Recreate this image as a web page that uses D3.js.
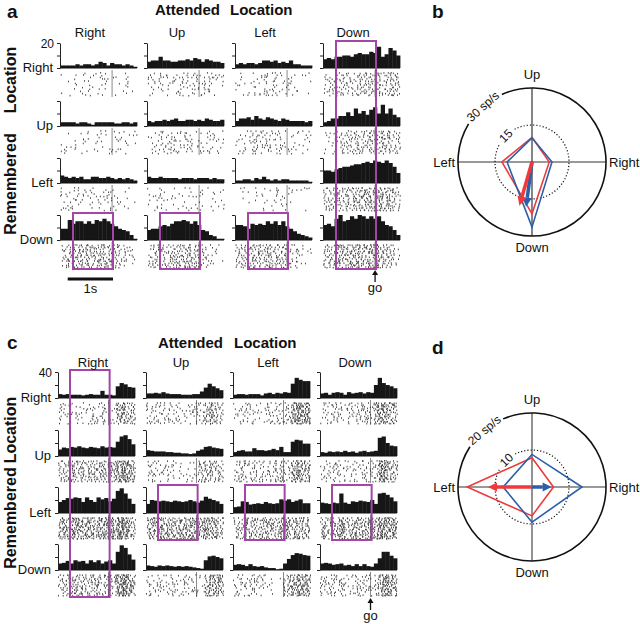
<!DOCTYPE html>
<html><head><meta charset="utf-8">
<script src="https://cdn.jsdelivr.net/npm/d3@7"></script>
<style>
body{margin:0;background:#fff}
text{font-family:Arial,"Liberation Sans",Helvetica,sans-serif;fill:#111}
</style></head>
<body><svg id="fig" width="640" height="624"></svg>
<script>
// ---------------- DATA ----------------
const directions = ["Right","Up","Left","Down"];
const DUR = 1.7;          // s shown per histogram
const BIN = 0.085;        // s per bin (20 bins)

// Panel a: firing rate (sp/s) per bin; rows = remembered location, inner arrays = attended location
const aRemRight = [
  [2,2,2,2,3,2,3,3,2,3,5,4,2,4,3,3,2,3,2,1],
  [5,6,6,9,6,6,5,5,6,6,7,6,8,7,5,7,6,5,5,4],
  [3,4,3,4,4,3,4,6,6,5,6,4,5,4,6,3,3,2,2,2],
  [7,8,7,9,9,10,10,9,11,12,11,11,13,12,17,9,11,16,14,10]
];
const aRemUp = [
  [3,3,3,3,2,3,3,2,1,3,3,3,3,3,2,2,3,3,2,3],
  [4,3,4,4,5,4,5,6,4,4,5,5,4,5,4,6,5,4,4,5],
  [4,6,6,7,5,8,6,5,7,6,5,4,6,5,4,4,4,4,3,4],
  [3,4,6,6,8,8,11,8,14,10,12,9,13,15,10,17,10,14,9,7]
];
const aRemLeft = [
  [6,5,4,5,4,5,3,3,5,5,4,4,5,4,3,4,3,4,3,2],
  [5,4,4,5,4,4,4,4,3,4,4,4,3,4,4,4,3,4,3,3],
  [2,2,3,3,2,4,3,5,3,2,3,2,3,3,2,2,2,2,2,1],
  [10,10,9,11,12,13,13,14,15,15,16,17,16,18,17,16,18,16,13,8]
];
const aRemDown = [
  [9,9,16,13,15,15,13,15,13,16,15,17,15,13,11,9,8,7,4,1],
  [8,9,9,11,12,11,13,15,15,16,15,13,15,12,8,7,4,3,1,1],
  [12,12,11,9,13,12,13,12,15,13,15,12,15,11,9,7,5,4,3,2],
  [12,13,11,17,20,15,16,19,17,20,19,17,19,17,19,15,12,11,8,4]
];
// Panel c
const cRemRight = [
  [6,5,6,5,5,5,4,5,6,5,5,11,5,5,4,18,23,21,17,16],
  [7,7,8,7,9,7,6,6,6,5,5,5,6,6,10,16,22,18,15,12],
  [5,6,6,5,6,6,6,4,7,8,6,8,7,9,8,22,31,28,26,26],
  [7,8,5,8,9,8,5,9,7,8,9,7,9,8,20,31,23,20,18,15]
];
const cRemUp = [
  [10,13,12,14,13,15,13,12,14,13,12,15,13,14,13,22,30,32,26,18],
  [9,8,7,7,7,6,6,5,5,4,4,3,4,8,10,14,15,13,12,11],
  [6,8,9,7,7,12,9,9,8,9,11,9,14,6,6,22,25,24,19,19],
  [6,5,7,6,7,6,8,6,7,5,7,8,6,7,8,28,30,20,16,15]
];
const cRemLeft = [
  [17,20,23,22,24,23,17,24,20,17,24,21,23,18,22,34,38,30,22,14],
  [14,20,19,18,19,18,17,19,18,17,18,20,18,16,19,25,22,20,18,14],
  [9,10,18,17,13,14,15,14,17,15,14,15,21,19,21,17,19,21,15,15],
  [16,15,14,16,15,30,16,14,18,17,19,18,17,20,14,30,31,28,24,18]
];
const cRemDown = [
  [10,11,14,10,15,13,14,10,15,12,15,10,13,15,10,28,38,34,24,16],
  [7,6,5,7,6,7,6,5,6,5,6,5,4,3,2,15,21,22,20,18],
  [8,9,8,6,9,6,5,6,4,3,3,1,2,10,17,23,26,25,23,22],
  [10,11,10,8,9,10,7,8,6,9,6,9,6,5,10,18,28,28,22,18]
];
const aTicks = [0,10,20];
const cTicks = [0,20,40];
// highlighted boxes: [attended column, first remembered row, last remembered row]
const aBoxes = [[3,0,3],[0,3,3],[1,3,3],[2,3,3]];
const cBoxes = [[0,0,3],[1,2,2],[2,2,2],[3,2,2]];

// Polar panels: values in order Right, Up, Left, Down (sp/s)
const bRed  = [7.0, 10.0, 12.2, 21.0];
const bBlue = [8.1, 9.8, 10.1, 26.4];
const bRedVec  = [-5.1, -17.7];   // x, y (up positive)
const bBlueVec = [-2.4, -18.1];
const dRed  = [5.8, 7.9, 17.5, 7.8];
const dBlue = [13.5, 8.8, 7.8, 9.5];
const dRedVec  = [-11.9, 0];
const dBlueVec = [5.3, 0];

// ---------------- DRAW ----------------
const svg = d3.select("#fig");
const MAG = "#a346a8", RED = "#ee3a3a", BLUE = "#2d5ea9";
function frac(v){ return v - Math.floor(v); }
function hash(a, b, c){ return frac(Math.sin(a*12.9898 + b*78.233 + c*37.719) * 43758.5453); }

function grid(o){
  const x = d3.scaleLinear().domain([0, DUR]).range([0, o.width]);
  const y = d3.scaleLinear().domain([0, o.maxRate]).range([0, -o.histH]);
  o.rows.forEach((row, r) => row.forEach((vals, c) => {
    const g = svg.append("g").attr("transform", `translate(${o.colX[c]},${o.baselines[r]})`);
    g.selectAll("rect").data(vals).join("rect")
      .attr("x", (d,i) => x(i*BIN)).attr("width", x(BIN) - x(0) + 0.4)
      .attr("y", d => y(d)).attr("height", d => -y(d)).attr("fill", "#161616");
    g.append("line").attr("x1",0).attr("x2",o.width).attr("y1",0).attr("y2",0)
      .attr("stroke","#111").attr("stroke-width",1);
    const ax = d3.axisLeft(y).tickValues(o.ticks).tickSize(3).tickSizeOuter(0).tickFormat("");
    g.append("g").call(ax).call(s => {
      s.select(".domain").attr("stroke","#222");
      s.selectAll(".tick line").attr("stroke","#222");
    });
    // spike raster: per trial and bin, spike count follows the histogram rate
    const nT = o.trials, rowH = (o.rasterH - 4) / nT;
    const seed = r*4 + c + o.seed;
    const spikes = [];
    for (let t = 0; t < nT; t++) {
      for (let b = 0; b < vals.length; b++) {
        const n = Math.floor(vals[b]*BIN + hash(t, b, seed));
        for (let k = 0; k < n; k++) {
          spikes.push([t + (hash(t+0.3, b+k*3.1, seed+5) - 0.5)*0.5, (b + hash(t+k*7.3, b+0.7, seed+11))*BIN]);
        }
      }
    }
    const rg = g.append("g").attr("transform", "translate(0,4)");
    rg.append("line").attr("x1", x(o.go)).attr("x2", x(o.go)).attr("y1", -2).attr("y2", o.rasterH - 3)
      .attr("stroke", "#8a8a8a").attr("stroke-width", 1);
    rg.selectAll("rect").data(spikes).join("rect")
      .attr("x", d => x(d[1])).attr("y", d => d[0]*rowH + 0.5)
      .attr("width", 0.9).attr("height", 1.6).attr("fill", "#3a3a3a");
  }));
  o.boxes.forEach(([c, r0, r1]) => {
    svg.append("rect")
      .attr("x", o.colX[c] + x(o.boxStart)).attr("width", x(o.boxEnd) - x(o.boxStart))
      .attr("y", o.baselines[r0] - o.histH - 2)
      .attr("height", (o.baselines[r1] + o.rasterH + 1) - (o.baselines[r0] - o.histH - 2))
      .attr("fill", "none").attr("stroke", MAG).attr("stroke-width", 2);
  });
  directions.forEach((d, c) => svg.append("text").attr("x", o.colX[c] + o.labelDx).attr("y", o.headY)
    .attr("text-anchor","middle").attr("font-size",13).text(d));
  directions.forEach((d, r) => svg.append("text").attr("x", o.colX[0] - 7).attr("y", o.baselines[r] + 4)
    .attr("text-anchor","end").attr("font-size",13).text(d));
  svg.append("text").attr("x", o.colX[0] - 6).attr("y", o.baselines[0] - o.histH + 5)
    .attr("text-anchor","end").attr("font-size",12).text(o.ticks[o.ticks.length-1]);
  svg.append("text").attr("x", o.titleX[0]).attr("y", o.titleY).attr("font-size",15).attr("font-weight","bold").text("Attended");
  svg.append("text").attr("x", o.titleX[1]).attr("y", o.titleY).attr("font-size",15).attr("font-weight","bold").text("Location");
  svg.append("text").attr("transform", `translate(16,${o.remY[0]}) rotate(-90)`).attr("text-anchor","middle")
    .attr("font-size",16).attr("font-weight","bold").text("Remembered");
  svg.append("text").attr("transform", `translate(16,${o.remY[1]}) rotate(-90)`).attr("text-anchor","middle")
    .attr("font-size",16).attr("font-weight","bold").text("Location");
  const gx = o.colX[3] + x(o.go);
  svg.append("line").attr("x1", gx).attr("x2", gx).attr("y1", o.goY - 6).attr("y2", o.goY - 15)
    .attr("stroke","#111").attr("stroke-width",1.3);
  svg.append("path").attr("d", `M${gx-3},${o.goY-13}L${gx},${o.goY-18}L${gx+3},${o.goY-13}Z`).attr("fill","#111");
  svg.append("text").attr("x", gx).attr("y", o.goY + 4).attr("text-anchor","middle").attr("font-size",13).text("go");
  return x;
}

const xa = grid({rows:[aRemRight,aRemUp,aRemLeft,aRemDown], baselines:[68,126,183,240], colX:[60,147,235,323],
  width:77, histH:25, rasterH:28, maxRate:20, ticks:aTicks, go:1.15, boxStart:0.287, boxEnd:1.17, boxes:aBoxes,
  labelDx:30, headY:37, titleX:[155,230], titleY:15, remY:[184,80], goY:288, seed:0, trials:12});
svg.append("line").attr("x1", 60 + xa(0.17)).attr("x2", 60 + xa(1.17)).attr("y1", 279).attr("y2", 279)
  .attr("stroke","#111").attr("stroke-width",3);
svg.append("text").attr("x", 60 + xa(0.67)).attr("y", 293).attr("text-anchor","middle").attr("font-size",13).text("1s");

grid({rows:[cRemRight,cRemUp,cRemLeft,cRemDown], baselines:[398,456,513,570], colX:[58,146,233,320],
  width:77, histH:26, rasterH:26, maxRate:40, ticks:cTicks, go:1.115, boxStart:0.265, boxEnd:1.14, boxes:cBoxes,
  labelDx:35, headY:367, titleX:[158,234], titleY:348, remY:[518,430], goY:616, seed:7, trials:12});

[["a",7,17.5],["b",432,17.5],["c",7,349],["d",432,354]].forEach(([t,x,y]) =>
  svg.append("text").attr("x",x).attr("y",y).attr("font-size",19).attr("font-weight","bold").text(t));

function polar(o){
  const g = svg.append("g").attr("transform", `translate(${o.cx},${o.cy})`);
  const R = o.R;
  const r = d3.scaleLinear().domain([0, o.max]).range([0, R]);
  const ang = [Math.PI/2, 0, -Math.PI/2, Math.PI];   // Right, Up, Left, Down (clockwise from top)
  const deg = Math.PI/180;
  function gapCircle(rad, g0, g1, dash, w){
    const p = d3.path();
    const a0 = (g1 - 90)*deg, a1 = (g0 - 90 + 360)*deg;
    p.moveTo(rad*Math.cos(a0), rad*Math.sin(a0));
    p.arc(0, 0, rad, a0, a1, false);
    g.append("path").attr("d", p.toString()).attr("fill","none").attr("stroke","#111")
      .attr("stroke-width", w).attr("stroke-dasharray", dash);
  }
  g.append("line").attr("x1",-R).attr("x2",R).attr("y1",0).attr("y2",0).attr("stroke",o.axisColor).attr("stroke-width",o.axisW);
  g.append("line").attr("x1",0).attr("x2",0).attr("y1",-R).attr("y2",R).attr("stroke",o.axisColor).attr("stroke-width",o.axisW);
  gapCircle(R, o.outerGap[0], o.outerGap[1], null, 1.6);
  gapCircle(r(o.innerVal), o.innerGap[0], o.innerGap[1], "1.2,2", 1.2);
  const lab = (txt, phi, rad) => {
    const px = rad*Math.sin(phi*deg), py = -rad*Math.cos(phi*deg);
    g.append("text").attr("transform", `translate(${px},${py}) rotate(${phi})`)
      .attr("text-anchor","middle").attr("dominant-baseline","central").attr("font-size",12).text(txt);
  };
  lab(o.outerLabel, (o.outerGap[0]+o.outerGap[1])/2, R);
  lab(String(o.innerVal), (o.innerGap[0]+o.innerGap[1])/2, r(o.innerVal));
  const line = d3.lineRadial().angle((d,i) => ang[i]).radius(d => r(d)).curve(d3.curveLinearClosed);
  g.append("path").attr("d", line(o.red)).attr("fill","none").attr("stroke",RED).attr("stroke-width",1.6);
  g.append("path").attr("d", line(o.blue)).attr("fill","none").attr("stroke",BLUE).attr("stroke-width",1.6);
  const arrow = (v, col) => {
    const tx = r(v[0]), ty = -r(v[1]);
    const L = Math.hypot(tx, ty), ux = tx/L, uy = ty/L;
    const bx = tx - ux*9, by = ty - uy*9;
    g.append("line").attr("x1",0).attr("y1",0).attr("x2",bx).attr("y2",by).attr("stroke",col).attr("stroke-width",3.5);
    g.append("path").attr("d", `M${tx},${ty}L${bx - uy*4.5},${by + ux*4.5}L${bx + uy*4.5},${by - ux*4.5}Z`).attr("fill",col);
  };
  arrow(o.blueVec, BLUE);
  arrow(o.redVec, RED);
  g.append("text").attr("x",0).attr("y",-R-9).attr("text-anchor","middle").attr("font-size",13).text(directions[1]);
  g.append("text").attr("x",0).attr("y",R+16).attr("text-anchor","middle").attr("font-size",13).text(directions[3]);
  g.append("text").attr("x",-R-3).attr("y",5).attr("text-anchor","end").attr("font-size",13).text(directions[2]);
  g.append("text").attr("x",R+3).attr("y",5).attr("text-anchor","start").attr("font-size",13).text(directions[0]);
}
polar({cx:532, cy:162, R:74, max:30, red:bRed, blue:bBlue, redVec:bRedVec, blueVec:bBlueVec,
  outerLabel:"30 sp/s", innerVal:15, outerGap:[-59,-24], innerGap:[-62,-28], axisColor:"#333", axisW:1.2});
polar({cx:532, cy:487, R:74, max:20, red:dRed, blue:dBlue, redVec:dRedVec, blueVec:dBlueVec,
  outerLabel:"20 sp/s", innerVal:10, outerGap:[-57,-23], innerGap:[-60,-27], axisColor:"#777", axisW:1.6});
</script></body></html>
